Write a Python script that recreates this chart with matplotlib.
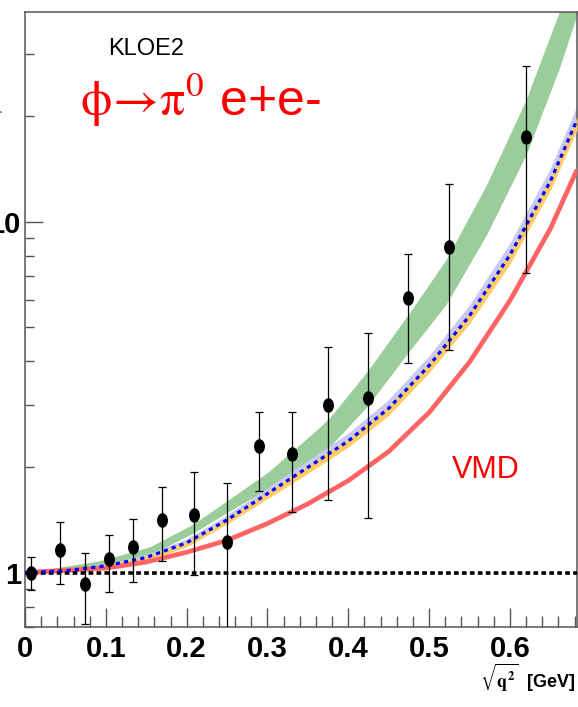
"""KLOE2 phi -> pi0 e+e- transition form factor, log-scale ratio vs sqrt(q^2)."""
import numpy as np
import matplotlib
matplotlib.use("Agg")
import matplotlib.pyplot as plt
from matplotlib import font_manager
from matplotlib.path import Path
from matplotlib.ticker import FixedLocator, NullFormatter, FixedFormatter

# --- data points (KLOE2) ---
data_x = [0.008, 0.043, 0.074, 0.104, 0.134, 0.169, 0.209, 0.250,
          0.290, 0.330, 0.375, 0.424, 0.474, 0.525, 0.620]
data_y = [1.00, 1.163, 0.93, 1.094, 1.186, 1.416, 1.463, 1.225,
          2.30, 2.18, 3.01, 3.15, 6.07, 8.49, 17.4]
data_lo = [0.894, 0.93, 0.716, 0.883, 0.943, 1.082, 0.987, 0.60,
           1.71, 1.49, 1.61, 1.434, 3.96, 4.32, 7.16]
data_hi = [1.11, 1.398, 1.14, 1.283, 1.426, 1.757, 1.94, 1.80,
           2.87, 2.86, 4.40, 4.82, 8.10, 12.8, 27.7]

# --- green band ---
green_x = [0.0, 0.093, 0.155, 0.209, 0.250, 0.300, 0.361, 0.377,
           0.424, 0.474, 0.521, 0.571, 0.620, 0.661, 0.683]
green_hi = [1.0, 1.081, 1.186, 1.379, 1.603, 1.928, 2.553, 2.765,
            3.758, 5.433, 7.798, 12.74, 22.28, 39.6, 54.0]
green_lo = [1.0, 1.047, 1.125, 1.300, 1.483, 1.734, 2.153, 2.286,
            2.985, 4.236, 5.808, 9.18, 15.52, 27.3, 38.9]

# --- blue dotted curve with lavender / orange uncertainty bands ---
blue_x = [0.0, 0.05, 0.1, 0.15, 0.2, 0.25, 0.3, 0.35, 0.4, 0.45,
          0.5, 0.55, 0.6, 0.65, 0.683]
blue_y = [1.0, 1.012, 1.045, 1.104, 1.216, 1.413, 1.679, 1.995, 2.371,
          2.938, 3.890, 5.395, 8.035, 13.03, 19.50]
# band edges relative to the blue curve
lav_up = [1.0, 1.0066, 1.0132, 1.0199, 1.0266, 1.0333, 1.0401, 1.0470,
          1.0539, 1.0608, 1.0678, 1.0748, 1.0819, 1.0890, 1.0962]
lav_dn = [1.0, 1.0, 1.0066, 1.0066, 1.0066, 1.0132, 1.0132, 1.0132,
          1.0199, 1.0199, 1.0199, 1.0199, 1.0266, 1.0266, 1.0266]
org_up = [1.0, 1.0, 1.0066, 1.0066, 1.0066, 1.0066, 1.0132, 1.0132,
          1.0132, 1.0132, 1.0199, 1.0199, 1.0199, 1.0199, 1.0199]
org_dn = [1.0, 1.0066, 1.0132, 1.0199, 1.0266, 1.0266, 1.0333, 1.0401,
          1.0401, 1.0470, 1.0470, 1.0539, 1.0608, 1.0608, 1.0678]

# --- VMD curve ---
vmd_x = [0.0, 0.1, 0.15, 0.2, 0.25, 0.3, 0.35, 0.4, 0.45, 0.5,
         0.55, 0.6, 0.65, 0.683]
vmd_y = [1.0, 1.030, 1.072, 1.143, 1.236, 1.380, 1.570, 1.828, 2.213,
         2.858, 3.981, 5.957, 9.55, 14.06]

x_ticks = [0.0, 0.1, 0.2, 0.3, 0.4, 0.5, 0.6]
x_tick_labels = ["0", "0.1", "0.2", "0.3", "0.4", "0.5", "0.6"]

names = {f.name for f in font_manager.fontManager.ttflist}
narrow = "Liberation Sans Narrow" if "Liberation Sans Narrow" in names else "Liberation Sans"
plt.rcParams["mathtext.fontset"] = "stix"

fig = plt.figure(figsize=(5.78, 7.07), dpi=100)
ax = fig.add_axes([0.0433, 0.1132, 0.9550, 0.870])
ax.set_yscale("log")
ax.set_xlim(0, 0.683)
ax.set_ylim(0.70, 39.6)

blue = np.array(blue_y)
ax.fill_between(green_x, green_lo, green_hi, color="#9acd9a", lw=0, zorder=1)
ax.fill_between(blue_x, blue / np.array(lav_dn), blue * np.array(lav_up),
                color="#c9c9f5", lw=0, zorder=2)
ax.fill_between(blue_x, blue / np.array(org_dn), blue * np.array(org_up),
                color="#ffcc66", lw=0, zorder=3)
ax.plot(vmd_x, vmd_y, color="#ff6464", lw=3.4, solid_capstyle="butt", zorder=4)
ax.axhline(1.0, color="black", lw=2.6, linestyle=(0, (1.3, 0.9)), zorder=5)
ax.plot(blue_x, blue_y, color="#0000ff", lw=2.3, linestyle=(0, (1.3, 1.3)), zorder=6)

# slightly tall ellipse markers, like the original
circ = Path.unit_circle()
ell = Path(circ.vertices * np.array([0.72, 1.0]), circ.codes)
yerr = [np.array(data_y) - np.array(data_lo), np.array(data_hi) - np.array(data_y)]
ax.errorbar(data_x, data_y, yerr=yerr, fmt="none", ecolor="black", elinewidth=0.9,
            capsize=3, capthick=0.9, zorder=7)
ax.plot(data_x, data_y, linestyle="none", marker=ell, markersize=9.5,
        color="black", zorder=8)

# axes styling (ROOT-like, inward ticks)
for s in ax.spines.values():
    s.set_color("#555555")
    s.set_linewidth(1.1)
ax.xaxis.set_major_locator(FixedLocator(x_ticks))
ax.xaxis.set_major_formatter(FixedFormatter(x_tick_labels))
ax.xaxis.set_minor_locator(FixedLocator(np.arange(0.02, 0.683, 0.02)))
ax.yaxis.set_major_locator(FixedLocator([1, 10]))
ax.yaxis.set_major_formatter(FixedFormatter(["1", "10"]))
ax.yaxis.set_minor_locator(FixedLocator([0.7, 0.8, 0.9, 2, 3, 4, 5, 6, 7, 8, 9, 20, 30]))
ax.yaxis.set_minor_formatter(NullFormatter())
ax.tick_params(axis="x", which="major", direction="in", length=14, width=1.0,
               color="#555555", pad=6)
ax.tick_params(axis="x", which="minor", direction="in", length=8, width=1.0, color="#555555")
ax.tick_params(axis="y", which="major", direction="in", length=13, width=1.0,
               color="#555555", pad=3)
ax.tick_params(axis="y", which="minor", direction="in", length=6.5, width=1.0, color="#555555")
for lab in ax.get_xticklabels() + ax.get_yticklabels():
    lab.set_fontfamily(narrow)
    lab.set_fontweight("bold")
    lab.set_fontsize(21)

ax.text(-0.033, 0.85, r"$|F_{\phi\pi^0}|^2$", transform=ax.transAxes, rotation=90,
        ha="right", va="center", fontsize=14, color="#333333")

fig.text(0.996, 0.028, r"$\mathbf{\sqrt{q^2}}$  [GeV]", ha="right", va="baseline",
         fontsize=13, fontweight="bold", fontfamily=narrow)

ax.text(0.151, 0.940, "KLOE2", transform=ax.transAxes, fontsize=17,
        fontfamily="Liberation Sans", color="black", ha="left", va="center")
ax.text(0.100, 0.856, r"$\mathrm{\phi\!\rightarrow\!\pi^0}$ e+e-", transform=ax.transAxes,
        fontsize=36, fontfamily="Liberation Sans", color="#ff0000", ha="left", va="center")
ax.text(0.774, 0.255, "VMD", transform=ax.transAxes, fontsize=22,
        fontfamily="Liberation Sans", color="#ff0000", ha="left", va="center")

fig.savefig("out.png", dpi=100)
